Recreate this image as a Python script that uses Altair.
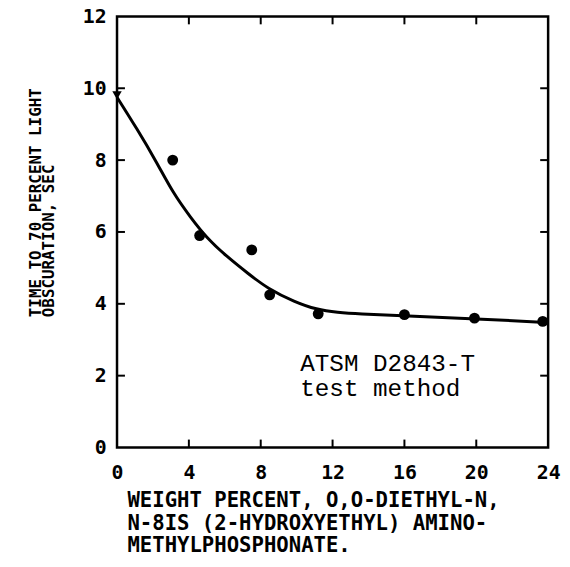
import altair as alt
import pandas as pd

# Measured data points (weight percent, time in sec)
pt_x = [3.1, 4.6, 7.5, 8.5, 11.2, 16.0, 19.9, 23.7]
pt_y = [8.0, 5.9, 5.5, 4.25, 3.72, 3.70, 3.60, 3.51]
# First point drawn as a triangle marker
tri_x = [0.0]
tri_y = [9.8]

# Fitted curve
curve_x = [0, 1.1, 2.2, 3.1, 4.1, 5.0, 6.1, 7.3, 8.4, 9.9, 11.1, 12.3, 13.4, 16.0, 20.0, 24.0]
curve_y = [9.75, 8.88, 7.95, 7.1, 6.4, 5.83, 5.32, 4.84, 4.42, 4.05, 3.84, 3.76, 3.72, 3.67, 3.58, 3.48]

x_ticks = [0, 4, 8, 12, 16, 20, 24]
y_ticks = [0, 2, 4, 6, 8, 10, 12]
x_inner = [4, 8, 12, 16, 20]
y_inner = [2, 4, 6, 8, 10]

note_x = [10.2]
note_y = [2.66]
note_text = ["ATSM D2843-T\ntest method"]

x_title = ["WEIGHT PERCENT, O,O-DIETHYL-N,",
           "N-8IS (2-HYDROXYETHYL) AMINO-",
           "METHYLPHOSPHONATE."]
y_title = ["TIME TO 70 PERCENT LIGHT", "OBSCURATION, SEC"]

W, H = 435, 435
TL = 8  # tick length

xs = alt.Scale(domain=[0, 24], nice=False, zero=False)
ys = alt.Scale(domain=[0, 12], nice=False, zero=False)

label_font = "DejaVu Sans Mono"

pts = pd.DataFrame({"x": pt_x, "y": pt_y})
tri = pd.DataFrame({"x": tri_x, "y": tri_y})
curve = pd.DataFrame({"x": curve_x, "y": curve_y})
xt = pd.DataFrame({"x": x_inner})
yt = pd.DataFrame({"y": y_inner})
note = pd.DataFrame({"x": note_x, "y": note_y, "t": note_text})

line = alt.Chart(curve).mark_line(color="black", strokeWidth=3, interpolate="basis").encode(
    x=alt.X("x:Q", scale=xs, axis=alt.Axis(
        values=x_ticks, title=x_title, domain=False, ticks=False, grid=False,
        labelFont=label_font, labelFontWeight="bold", labelFontSize=20, labelColor="black",
        labelPadding=15, labelFlush=False, labelOverlap=False,
        titleFont=label_font, titleFontWeight="bold", titleFontSize=20.8, titleColor="black",
        titleAlign="left", titleBaseline="top", titleX=10, titleY=44, titleLineHeight=22.5,
    )),
    y=alt.Y("y:Q", scale=ys, axis=alt.Axis(
        values=y_ticks, title=y_title, domain=False, ticks=False, grid=False,
        labelFont=label_font, labelFontWeight="bold", labelFontSize=20, labelColor="black",
        labelPadding=11, labelFlush=False, labelOverlap=False,
        titleFont=label_font, titleFontWeight="bold", titleFontSize=16, titleColor="black",
        titleAngle=270, titleAlign="left", titleBaseline="top",
        titleX=-90, titleY=303, titleLineHeight=12.5,
    )),
)

X = lambda f="x": alt.X(f + ":Q", scale=xs)
Y = lambda f="y": alt.Y(f + ":Q", scale=ys)

dots = alt.Chart(pts).mark_point(shape="circle", filled=True, color="black", size=120, opacity=1).encode(
    x=X(), y=Y())
tris = alt.Chart(tri).mark_point(shape="triangle-down", filled=True, color="black", size=90, opacity=1).encode(
    x=X(), y=Y())

tick_left = alt.Chart(yt).mark_rule(color="black", strokeWidth=2).encode(
    y=Y(), x=alt.value(0), x2=alt.value(TL))
tick_right = alt.Chart(yt).mark_rule(color="black", strokeWidth=2).encode(
    y=Y(), x=alt.value(W), x2=alt.value(W - TL))
tick_bottom = alt.Chart(xt).mark_rule(color="black", strokeWidth=2).encode(
    x=X(), y=alt.value(H), y2=alt.value(H - TL))
tick_top = alt.Chart(xt).mark_rule(color="black", strokeWidth=2).encode(
    x=X(), y=alt.value(0), y2=alt.value(TL))

text = alt.Chart(note).mark_text(
    align="left", baseline="top", font="Liberation Mono", fontSize=24.5,
    lineBreak="\n", lineHeight=25, color="black"
).encode(x=X(), y=Y(), text="t:N")

chart = alt.layer(
    line, dots, tris, tick_left, tick_right, tick_bottom, tick_top, text
).properties(
    width=W, height=H,
    background="white",
    autosize=alt.AutoSizeParams(type="none"),
    padding={"left": 110, "top": 6, "right": 14, "bottom": 108},
).configure_view(
    stroke="black", strokeWidth=2.5
)

chart.save("out.html", embed_options={"renderer": "svg", "actions": False})
